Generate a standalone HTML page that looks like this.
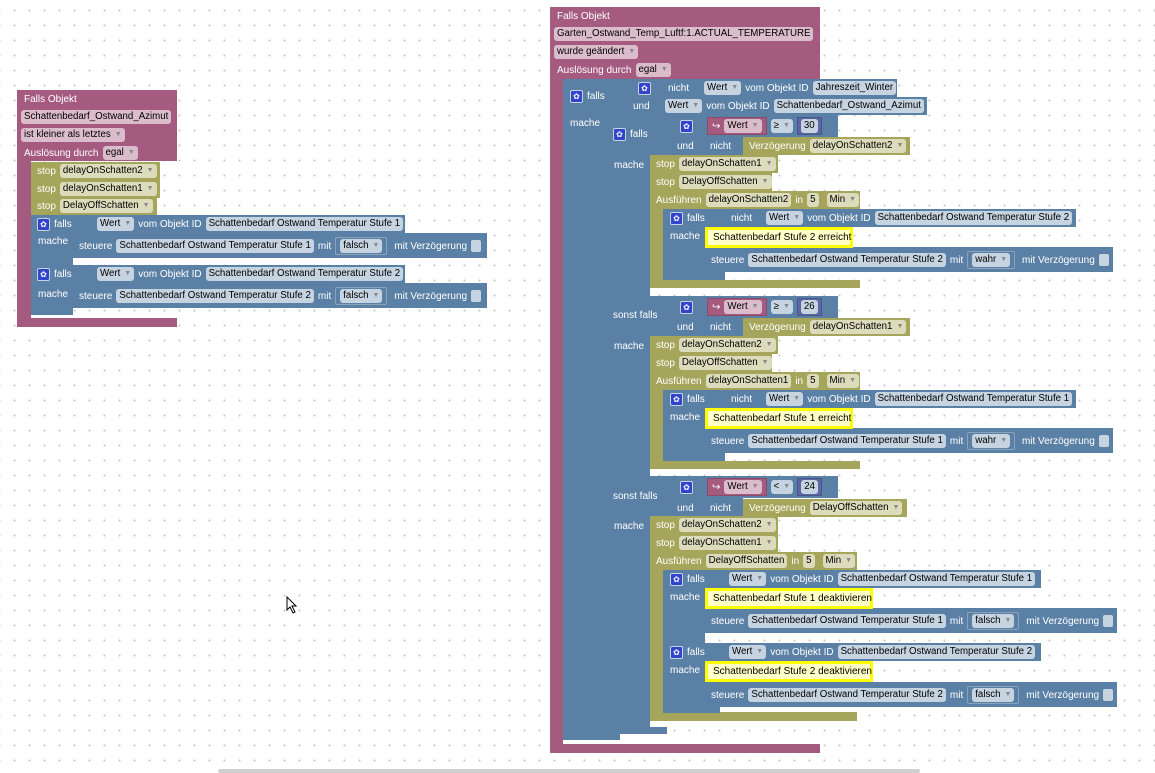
<!DOCTYPE html>
<html><head><meta charset="utf-8"><style>
body{margin:0;width:1155px;height:773px;overflow:hidden;background:#fff;
background-image:radial-gradient(circle,#c8c8c8 0.8px,transparent 1.2px);background-size:15px 15px;background-position:7px 3px;
font-family:"Liberation Sans",Arial,sans-serif;font-size:9.7px;position:relative}
.b{position:absolute}
.P{background:#a55b80}.B{background:#5b80a5}.O{background:#a5a55b}.N{background:#5b67a5}
.Y{background:#ffffc8;border:3px solid #ffff00;box-sizing:border-box;color:#000;display:flex;align-items:center;padding-left:5px;white-space:nowrap;font-size:10px}
.r{position:absolute;height:18px;display:flex;align-items:center;gap:4px;color:#fff;white-space:nowrap;font-size:10px}
.f{color:#000;border-radius:3px;padding:0 3px;height:14px;line-height:14px;font-size:9.7px}
.fp{background:#dbbccb}.fb{background:#c6d3e1}.fo{background:#dcdcbd}
.f i{font-style:normal;font-size:7px;color:#888;margin-left:4px;vertical-align:1px}
.bx{border:1px solid #8aa3bd;padding:1px 4px;border-radius:2px;display:flex}
.ic{width:11px;height:11px;background:#3344cc;border:1px solid #c6d3e1;border-radius:2px;color:#fff;font-size:8px;line-height:11px;text-align:center}
.cb{width:10px;height:12px;background:#c6d3e1;border-radius:2px;flex:none}
.cp{background:#a55b80;height:18px;display:flex;align-items:center;padding:0 4px;gap:4px;border:1px solid #8a4a6a;box-sizing:border-box}
.cn{background:#5b67a5;height:18px;display:flex;align-items:center;padding:0 3px;border:1px solid #4a558a;box-sizing:border-box}
</style></head><body>

<!-- LEFT BLOCK -->
<div class="b P" style="left:17px;top:90px;width:160px;height:71px"></div>
<div class="b P" style="left:17px;top:160px;width:14px;height:162px"></div>
<div class="b P" style="left:17px;top:318px;width:160px;height:9px"></div>
<div class="r" style="left:24px;top:90px">Falls Objekt</div>
<div class="r" style="left:21px;top:108px"><span class="f fp">Schattenbedarf_Ostwand_Azimut</span></div>
<div class="r" style="left:21px;top:126px"><span class="f fp">ist kleiner als letztes<i>▼</i></span></div>
<div class="r" style="left:24px;top:144px">Auslösung durch <span class="f fp">egal<i>▼</i></span></div>

<div class="b O" style="left:31px;top:162px;width:129px;height:18px"></div>
<div class="b O" style="left:31px;top:180px;width:129px;height:18px"></div>
<div class="b O" style="left:31px;top:198px;width:126px;height:17px"></div>
<div class="r" style="left:37px;top:162px">stop <span class="f fo">delayOnSchatten2<i>▼</i></span></div>
<div class="r" style="left:37px;top:180px">stop <span class="f fo">delayOnSchatten1<i>▼</i></span></div>
<div class="r" style="left:37px;top:197px">stop <span class="f fo">DelayOffSchatten<i>▼</i></span></div>

<div class="b B" style="left:31px;top:215px;width:374px;height:18px"></div>
<div class="b B" style="left:31px;top:233px;width:42px;height:32px"></div>
<div class="b B" style="left:73px;top:233px;width:414px;height:25px"></div>
<div class="r" style="left:37px;top:215px"><span class="ic">✿</span> falls</div>
<div class="r" style="left:97px;top:215px"><span class="f fb">Wert<i>▼</i></span>vom Objekt ID<span class="f fb">Schattenbedarf Ostwand Temperatur Stufe 1</span></div>
<div class="r" style="left:38px;top:232px">mache</div>
<div class="r" style="left:79px;top:237px">steuere<span class="f fb">Schattenbedarf Ostwand Temperatur Stufe 1</span>mit<span class="bx"><span class="f fb">falsch<i>▼</i></span></span>&nbsp;mit Verzögerung<span class="cb"></span></div>

<div class="b B" style="left:31px;top:265px;width:374px;height:18px"></div>
<div class="b B" style="left:31px;top:283px;width:42px;height:32px"></div>
<div class="b B" style="left:73px;top:283px;width:414px;height:25px"></div>
<div class="r" style="left:37px;top:265px"><span class="ic">✿</span> falls</div>
<div class="r" style="left:97px;top:265px"><span class="f fb">Wert<i>▼</i></span>vom Objekt ID<span class="f fb">Schattenbedarf Ostwand Temperatur Stufe 2</span></div>
<div class="r" style="left:38px;top:285px">mache</div>
<div class="r" style="left:79px;top:287px">steuere<span class="f fb">Schattenbedarf Ostwand Temperatur Stufe 2</span>mit<span class="bx"><span class="f fb">falsch<i>▼</i></span></span>&nbsp;mit Verzögerung<span class="cb"></span></div>

<!-- RIGHT BLOCK -->
<div class="b P" style="left:550px;top:7px;width:270px;height:72px"></div>
<div class="b P" style="left:550px;top:78px;width:13px;height:670px"></div>
<div class="b P" style="left:550px;top:744px;width:270px;height:9px"></div>
<div class="r" style="left:557px;top:7px">Falls Objekt</div>
<div class="r" style="left:554px;top:25px"><span class="f fp">Garten_Ostwand_Temp_Luftf:1.ACTUAL_TEMPERATURE</span></div>
<div class="r" style="left:554px;top:43px"><span class="f fp">wurde geändert<i>▼</i></span></div>
<div class="r" style="left:557px;top:61px">Auslösung durch <span class="f fp">egal<i>▼</i></span></div>

<div class="b B" style="left:563px;top:79px;width:334px;height:18px"></div>
<div class="b B" style="left:563px;top:97px;width:364px;height:18px"></div>
<div class="b B" style="left:563px;top:115px;width:44px;height:618px"></div>
<div class="b B" style="left:563px;top:733px;width:57px;height:7px"></div>
<div class="r" style="left:570px;top:87px"><span class="ic">✿</span> falls</div>
<div class="r" style="left:570px;top:114px">mache</div>
<div class="r" style="left:638px;top:79px"><span class="ic">✿</span></div>
<div class="r" style="left:668px;top:79px">nicht</div>
<div class="r" style="left:704px;top:79px"><span class="f fb">Wert<i>▼</i></span>vom Objekt ID<span class="f fb">Jahreszeit_Winter</span></div>
<div class="r" style="left:633px;top:97px">und</div>
<div class="r" style="left:665px;top:97px"><span class="f fb">Wert<i>▼</i></span>vom Objekt ID<span class="f fb">Schattenbedarf_Ostwand_Azimut</span></div>

<div class="b B" style="left:607px;top:115px;width:43px;height:612px"></div>
<div class="b B" style="left:607px;top:727px;width:60px;height:7px"></div>

<!-- section 1 -->
<div class="b B" style="left:650px;top:115px;width:188px;height:22px"></div>
<div class="b B" style="left:650px;top:137px;width:93px;height:18px"></div>
<div class="r" style="left:613px;top:125px"><span class="ic">✿</span> falls</div>
<div class="r" style="left:614px;top:156px">mache</div>
<div class="r" style="left:680px;top:117px"><span class="ic">✿</span></div>
<div class="r" style="left:707px;top:117px;gap:4px"><span class="cp">↪ <span class="f fp">Wert<i>▼</i></span></span><span class="f fb">≥<i>▼</i></span><span class="cn"><span class="f fb">30</span></span></div>
<div class="r" style="left:677px;top:137px">und</div>
<div class="r" style="left:710px;top:137px">nicht</div>
<div class="b O" style="left:743px;top:137px;width:167px;height:18px"></div>
<div class="r" style="left:749px;top:137px">Verzögerung<span class="f fo">delayOnSchatten2<i>▼</i></span></div>

<div class="b O" style="left:650px;top:155px;width:128px;height:18px"></div>
<div class="b O" style="left:650px;top:173px;width:122px;height:18px"></div>
<div class="b O" style="left:650px;top:191px;width:210px;height:18px"></div>
<div class="b O" style="left:650px;top:209px;width:13px;height:72px"></div>
<div class="b O" style="left:650px;top:280px;width:210px;height:8px"></div>
<div class="r" style="left:656px;top:155px">stop<span class="f fo">delayOnSchatten1<i>▼</i></span></div>
<div class="r" style="left:656px;top:173px">stop<span class="f fo">DelayOffSchatten<i>▼</i></span></div>
<div class="r" style="left:656px;top:191px">Ausführen<span class="f fo">delayOnSchatten2</span>in<span class="f fo">5</span><span class="f fo" style="margin-left:4px">Min<i>▼</i></span></div>

<div class="b B" style="left:663px;top:209px;width:413px;height:18px"></div>
<div class="b B" style="left:663px;top:227px;width:42px;height:45px"></div>
<div class="b B" style="left:663px;top:272px;width:62px;height:8px"></div>
<div class="b B" style="left:705px;top:247px;width:408px;height:25px"></div>
<div class="b Y" style="left:705px;top:227px;width:148px;height:21px">Schattenbedarf Stufe 2 erreicht</div>
<div class="r" style="left:670px;top:209px"><span class="ic">✿</span> falls</div>
<div class="r" style="left:731px;top:209px">nicht</div>
<div class="r" style="left:766px;top:209px"><span class="f fb">Wert<i>▼</i></span>vom Objekt ID<span class="f fb">Schattenbedarf Ostwand Temperatur Stufe 2</span></div>
<div class="r" style="left:670px;top:227px">mache</div>
<div class="r" style="left:711px;top:251px">steuere<span class="f fb">Schattenbedarf Ostwand Temperatur Stufe 2</span>mit<span class="bx"><span class="f fb">wahr<i>▼</i></span></span>&nbsp;mit Verzögerung<span class="cb"></span></div>

<!-- section 2 -->
<div class="b B" style="left:650px;top:296px;width:188px;height:22px"></div>
<div class="b B" style="left:650px;top:318px;width:93px;height:18px"></div>
<div class="r" style="left:613px;top:306px">sonst falls</div>
<div class="r" style="left:614px;top:337px">mache</div>
<div class="r" style="left:680px;top:298px"><span class="ic">✿</span></div>
<div class="r" style="left:707px;top:298px;gap:4px"><span class="cp">↪ <span class="f fp">Wert<i>▼</i></span></span><span class="f fb">≥<i>▼</i></span><span class="cn"><span class="f fb">26</span></span></div>
<div class="r" style="left:677px;top:318px">und</div>
<div class="r" style="left:710px;top:318px">nicht</div>
<div class="b O" style="left:743px;top:318px;width:167px;height:18px"></div>
<div class="r" style="left:749px;top:318px">Verzögerung<span class="f fo">delayOnSchatten1<i>▼</i></span></div>

<div class="b O" style="left:650px;top:336px;width:128px;height:18px"></div>
<div class="b O" style="left:650px;top:354px;width:122px;height:18px"></div>
<div class="b O" style="left:650px;top:372px;width:210px;height:18px"></div>
<div class="b O" style="left:650px;top:390px;width:13px;height:72px"></div>
<div class="b O" style="left:650px;top:461px;width:210px;height:8px"></div>
<div class="r" style="left:656px;top:336px">stop<span class="f fo">delayOnSchatten2<i>▼</i></span></div>
<div class="r" style="left:656px;top:354px">stop<span class="f fo">DelayOffSchatten<i>▼</i></span></div>
<div class="r" style="left:656px;top:372px">Ausführen<span class="f fo">delayOnSchatten1</span>in<span class="f fo">5</span><span class="f fo" style="margin-left:4px">Min<i>▼</i></span></div>

<div class="b B" style="left:663px;top:390px;width:413px;height:18px"></div>
<div class="b B" style="left:663px;top:408px;width:42px;height:45px"></div>
<div class="b B" style="left:663px;top:453px;width:62px;height:8px"></div>
<div class="b B" style="left:705px;top:428px;width:408px;height:25px"></div>
<div class="b Y" style="left:705px;top:408px;width:148px;height:21px">Schattenbedarf Stufe 1 erreicht</div>
<div class="r" style="left:670px;top:390px"><span class="ic">✿</span> falls</div>
<div class="r" style="left:731px;top:390px">nicht</div>
<div class="r" style="left:766px;top:390px"><span class="f fb">Wert<i>▼</i></span>vom Objekt ID<span class="f fb">Schattenbedarf Ostwand Temperatur Stufe 1</span></div>
<div class="r" style="left:670px;top:408px">mache</div>
<div class="r" style="left:711px;top:432px">steuere<span class="f fb">Schattenbedarf Ostwand Temperatur Stufe 1</span>mit<span class="bx"><span class="f fb">wahr<i>▼</i></span></span>&nbsp;mit Verzögerung<span class="cb"></span></div>

<!-- section 3 -->
<div class="b B" style="left:650px;top:476px;width:188px;height:22px"></div>
<div class="b B" style="left:650px;top:498px;width:93px;height:18px"></div>
<div class="r" style="left:613px;top:487px">sonst falls</div>
<div class="r" style="left:614px;top:517px">mache</div>
<div class="r" style="left:680px;top:478px"><span class="ic">✿</span></div>
<div class="r" style="left:707px;top:478px;gap:4px"><span class="cp">↪ <span class="f fp">Wert<i>▼</i></span></span><span class="f fb">&lt;<i>▼</i></span><span class="cn"><span class="f fb">24</span></span></div>
<div class="r" style="left:677px;top:499px">und</div>
<div class="r" style="left:710px;top:499px">nicht</div>
<div class="b O" style="left:743px;top:499px;width:164px;height:18px"></div>
<div class="r" style="left:749px;top:499px">Verzögerung<span class="f fo">DelayOffSchatten<i>▼</i></span></div>

<div class="b O" style="left:650px;top:516px;width:128px;height:18px"></div>
<div class="b O" style="left:650px;top:534px;width:128px;height:18px"></div>
<div class="b O" style="left:650px;top:552px;width:207px;height:18px"></div>
<div class="b O" style="left:650px;top:570px;width:13px;height:143px"></div>
<div class="b O" style="left:650px;top:712px;width:207px;height:9px"></div>
<div class="r" style="left:656px;top:516px">stop<span class="f fo">delayOnSchatten2<i>▼</i></span></div>
<div class="r" style="left:656px;top:534px">stop<span class="f fo">delayOnSchatten1<i>▼</i></span></div>
<div class="r" style="left:656px;top:552px">Ausführen<span class="f fo">DelayOffSchatten</span>in<span class="f fo">5</span><span class="f fo" style="margin-left:4px">Min<i>▼</i></span></div>

<div class="b B" style="left:663px;top:570px;width:378px;height:18px"></div>
<div class="b B" style="left:663px;top:588px;width:42px;height:55px"></div>
<div class="b B" style="left:705px;top:608px;width:412px;height:25px"></div>
<div class="b Y" style="left:705px;top:588px;width:168px;height:21px">Schattenbedarf Stufe 1 deaktivieren</div>
<div class="r" style="left:670px;top:570px"><span class="ic">✿</span> falls</div>
<div class="r" style="left:729px;top:570px"><span class="f fb">Wert<i>▼</i></span>vom Objekt ID<span class="f fb">Schattenbedarf Ostwand Temperatur Stufe 1</span></div>
<div class="r" style="left:670px;top:588px">mache</div>
<div class="r" style="left:711px;top:612px">steuere<span class="f fb">Schattenbedarf Ostwand Temperatur Stufe 1</span>mit<span class="bx"><span class="f fb">falsch<i>▼</i></span></span>&nbsp;mit Verzögerung<span class="cb"></span></div>

<div class="b B" style="left:663px;top:643px;width:378px;height:18px"></div>
<div class="b B" style="left:663px;top:661px;width:42px;height:46px"></div>
<div class="b B" style="left:663px;top:706px;width:57px;height:7px"></div>
<div class="b B" style="left:705px;top:682px;width:412px;height:25px"></div>
<div class="b Y" style="left:705px;top:661px;width:168px;height:21px">Schattenbedarf Stufe 2 deaktivieren</div>
<div class="r" style="left:670px;top:643px"><span class="ic">✿</span> falls</div>
<div class="r" style="left:729px;top:643px"><span class="f fb">Wert<i>▼</i></span>vom Objekt ID<span class="f fb">Schattenbedarf Ostwand Temperatur Stufe 2</span></div>
<div class="r" style="left:670px;top:661px">mache</div>
<div class="r" style="left:711px;top:686px">steuere<span class="f fb">Schattenbedarf Ostwand Temperatur Stufe 2</span>mit<span class="bx"><span class="f fb">falsch<i>▼</i></span></span>&nbsp;mit Verzögerung<span class="cb"></span></div>

<div class="b" style="left:218px;top:769px;width:702px;height:4px;background:#d0d0d0;border-radius:2px"></div>
<svg class="b" style="left:286px;top:596px" width="12" height="18"><path d="M1 1 L1 14 L4 11 L7 17 L9 16 L6 10 L10 10 Z" fill="#fff" stroke="#000" stroke-width="1"/></svg>
</body></html>
